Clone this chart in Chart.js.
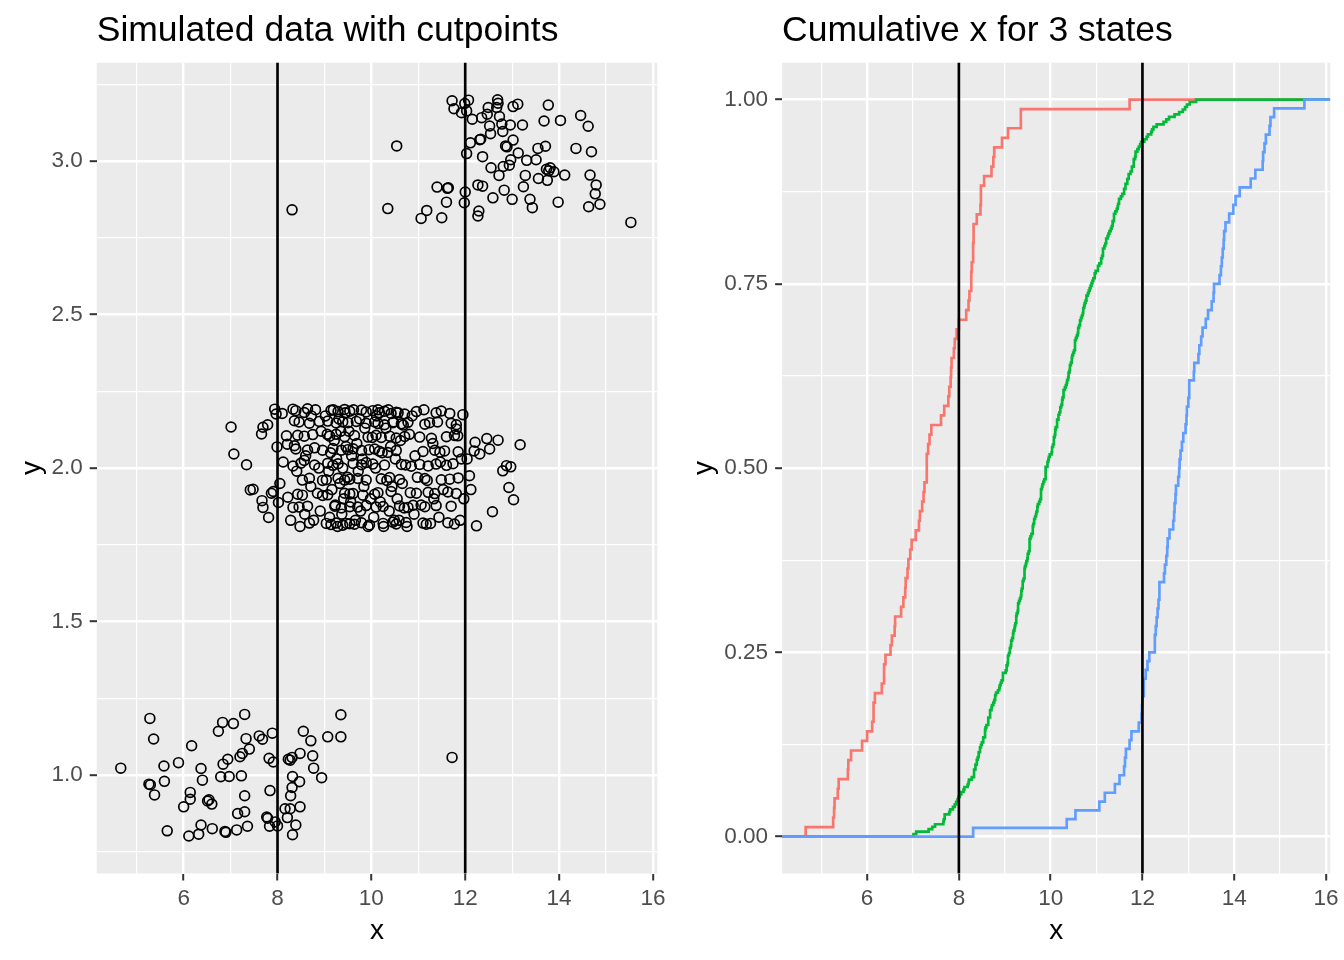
<!DOCTYPE html>
<html>
<head>
<meta charset="utf-8">
<script src="https://cdn.jsdelivr.net/npm/chart.js@4.4.1/dist/chart.umd.min.js"></script>
<style>
  html, body { margin: 0; padding: 0; background: #ffffff; }
  #wrap { position: relative; width: 1344px; height: 960px; overflow: hidden; }
  canvas { position: absolute; top: 0; }
  #left { left: 0; }
  #right { left: 672px; }
</style>
</head>
<body>
<div id="wrap">
  <canvas id="left" width="672" height="960"></canvas>
  <canvas id="right" width="672" height="960"></canvas>
</div>
<script>
// ---------------- data ----------------
const leftTitle = 'Simulated data with cutpoints';
const rightTitle = 'Cumulative x for 3 states';
const xTitle = 'x';
const yTitle = 'y';
const cutpoints = [8, 12];
const stateNames = ['1', '2', '3'];
const stateColors = ['#F8766D', '#00BA38', '#619CFF'];

const xMajorTicks = [6, 8, 10, 12, 14, 16];
const leftYMajorTicks = [1.0, 1.5, 2.0, 2.5, 3.0];
const rightYMajorTicks = [0, 0.25, 0.5, 0.75, 1.0];

// state 1 points [x, y]
const state1Points = [
  [4.66,1.023],[5.28,1.185],[5.36,1.118],[5.26,0.971],[5.29,0.969],[5.38,0.936],[5.58,1.030],[5.59,0.980],
  [5.89,1.041],[5.65,0.819],[6.17,1.096],[6.14,0.944],[6.14,0.922],[6.00,0.897],[6.11,0.802],[6.32,0.808],
  [6.37,0.838],[6.37,1.022],[6.40,0.984],[6.61,0.826],[6.51,0.916],[6.54,0.920],[6.60,0.906],[6.74,1.143],
  [6.83,1.172],[7.06,1.168],[7.30,1.198],[6.84,1.036],[6.94,1.052],[6.79,0.995],[6.97,0.996],[7.23,0.998],
  [7.20,1.060],[7.25,1.071],[7.40,1.085],[7.33,1.119],[7.30,0.933],[7.15,0.875],[7.30,0.881],[6.88,0.817],
  [6.90,0.814],[7.13,0.822],[7.36,0.834],[7.61,1.128],[7.68,1.117],[7.89,1.137],[7.82,1.055],[7.91,1.043],
  [7.84,0.950],[7.77,0.864],[7.79,0.860],[7.83,0.834],[8.00,0.835],[7.95,0.848],[8.23,1.052],[8.27,1.049],
  [8.31,1.058],[8.48,1.071],[8.32,0.996],[8.47,0.979],[8.31,0.960],[8.28,0.933],[8.16,0.891],[8.27,0.891],
  [8.48,0.897],[8.39,0.838],[8.32,0.806],[8.21,0.862],[8.55,1.143],[8.71,1.112],[8.75,1.063],[8.77,1.023],
  [8.94,0.992],[9.07,1.125],[9.35,1.125],[9.35,1.197],[11.72,1.058]
];

// state 2 points [x, y]
const state2Points = [
  [7.01,2.134],[7.07,2.046],[7.34,2.011],[7.42,1.929],[7.48,1.931],
  [7.67,1.894],[7.69,1.872],[7.81,1.839],[7.87,1.918],[7.91,1.924],[7.66,2.111],[7.69,2.133],[7.79,2.141],
  [7.94,2.192],[7.97,2.176],[7.99,2.069],
  [8.10,2.178],[8.19,2.105],[8.21,2.078],[8.36,2.073],[8.33,2.192],[8.36,2.154],[8.33,2.007],[8.02,1.888],
  [8.22,1.905],[8.33,1.872],[8.39,2.187],[8.46,2.150],[8.43,2.107],[8.39,2.062],[8.43,1.915],[8.46,1.873],
  [8.05,1.950],[8.12,2.020],[8.28,1.830],[8.41,1.990],[8.48,1.810],
  [8.57,2.181],[8.64,2.193],[8.68,2.146],[8.57,2.104],[8.64,2.059],[8.50,2.016],[8.57,2.025],[8.53,1.961],
  [8.53,1.912],[8.64,1.876],[8.68,1.821],[8.89,2.152],[8.75,2.109],[8.79,2.066],[8.96,2.058],[8.79,2.010],
  [8.68,1.967],[8.96,1.960],[8.85,1.918],[8.96,1.911],[8.72,2.170],[8.81,2.190],[8.93,2.120],[8.60,2.040],
  [8.88,2.000],[8.71,1.940],[8.91,1.860],[8.77,1.830],[8.58,1.850],
  [9.14,2.188],[9.29,2.184],[9.43,2.191],[9.07,2.153],[9.25,2.147],[9.39,2.151],[9.11,2.104],[9.25,2.110],
  [9.43,2.102],[9.18,2.064],[9.36,2.058],[9.07,2.016],[9.18,2.009],[9.29,2.014],[9.04,1.962],[9.29,1.967],
  [9.43,1.961],[9.07,1.913],[9.43,1.918],[9.22,1.876],[9.36,1.870],[9.04,1.820],[9.14,1.816],[9.25,1.821],
  [9.39,1.814],
  [9.02,2.170],[9.06,2.110],[9.09,1.990],[9.11,1.840],[9.13,2.050],[9.16,1.930],[9.19,2.190],[9.21,2.090],
  [9.23,1.880],[9.26,2.030],[9.28,1.810],[9.31,2.160],[9.33,1.950],[9.35,2.120],[9.37,1.850],[9.39,2.000],
  [9.41,1.900],[9.44,2.180],[9.46,2.070],[9.47,1.820],[9.49,1.970],
  [9.54,2.185],[9.50,2.148],[9.50,2.060],[9.54,1.964],[9.54,1.916],[9.54,1.874],[9.54,1.819],
  [9.79,2.189],[9.89,2.183],[9.68,2.152],[9.89,2.146],[9.64,2.106],[9.93,2.101],[9.61,2.063],[9.79,2.057],
  [9.61,2.015],[9.79,2.011],[9.89,2.018],[9.71,1.966],[9.89,1.961],[9.61,1.917],[9.82,1.912],[9.71,1.873],
  [9.89,1.878],[9.64,1.817],[9.79,1.822],[9.96,1.815],
  [9.52,2.120],[9.56,1.890],[9.58,2.040],[9.62,2.190],[9.66,1.830],[9.69,2.080],[9.72,1.990],[9.75,2.160],
  [9.77,1.860],[9.81,2.030],[9.84,1.940],[9.86,2.130],[9.93,1.810],[9.95,2.060],[9.98,1.900],
  [10.03,2.187],[10.14,2.190],[10.07,2.150],[10.10,2.107],[10.07,2.062],[10.03,2.013],[10.07,1.915],[10.10,1.873],
  [10.17,2.180],[10.28,2.185],[10.42,2.178],[10.14,2.145],[10.28,2.141],[10.46,2.148],[10.21,2.100],[10.39,2.104],
  [10.17,2.055],[10.35,2.051],[10.28,2.010],[10.21,1.965],[10.39,1.969],[10.14,1.920],[10.42,1.924],[10.25,1.875],
  [10.25,1.820],[10.46,1.824],
  [10.02,2.100],[10.05,1.840],[10.09,2.000],[10.11,2.170],[10.19,1.890],[10.23,2.050],[10.26,1.810],[10.31,2.130],
  [10.33,1.960],[10.36,2.190],[10.38,1.860],[10.41,2.070],[10.44,1.940],[10.47,2.150],[10.49,1.830],
  [10.53,2.182],[10.71,2.176],[10.96,2.184],[10.64,2.144],[10.78,2.149],[10.53,2.098],[10.71,2.103],[10.53,2.057],
  [10.64,2.012],[10.85,2.006],[10.60,1.963],[10.96,1.918],[10.60,1.877],[10.78,1.872],[10.89,1.879],[10.53,1.818],
  [10.74,1.823],
  [10.51,2.030],[10.55,1.900],[10.57,2.180],[10.59,1.830],[10.62,2.090],[10.66,1.950],[10.68,2.140],[10.70,1.870],
  [10.73,2.010],[10.76,1.810],[10.81,2.110],[10.83,1.920],[10.87,2.170],[10.91,1.850],[10.93,2.040],[10.98,1.970],
  [11.38,2.180],[11.49,2.186],[11.14,2.143],[11.24,2.148],[11.03,2.101],[11.28,2.097],[11.10,2.054],[11.35,2.058],
  [11.46,2.052],[11.03,2.012],[11.21,2.007],[11.38,2.013],[11.14,1.966],[11.49,1.962],[11.21,1.921],[11.35,1.917],
  [11.14,1.874],[11.38,1.878],[11.10,1.821],[11.17,1.817],
  [11.06,1.880],[11.12,2.190],[11.19,1.960],[11.26,1.820],[11.31,2.080],[11.33,1.900],[11.41,2.150],[11.44,1.840],
  [11.47,2.020],
  [11.67,2.178],[11.70,2.146],[11.81,2.141],[11.60,2.102],[11.77,2.106],[11.56,2.056],[11.85,2.053],[11.60,2.009],
  [11.74,2.014],[11.67,1.964],[11.85,1.968],[11.63,1.922],[11.81,1.917],[11.70,1.876],[11.63,1.822],[11.77,1.818],
  [11.95,2.174],[11.81,2.127],[11.84,2.105],
  [11.53,1.930],[11.89,1.830],[11.92,2.030],[11.97,1.900],
  [12.21,2.084],[12.46,2.096],[12.19,2.056],[12.31,2.046],[12.24,1.812],[12.09,1.975],[12.04,2.030],[12.12,1.930],
  [12.70,2.091],[12.52,2.062],[12.80,1.991],[12.88,2.008],[12.97,2.004],[12.93,1.937],[12.58,1.858],
  [13.17,2.076],[13.03,1.897]
];

// state 3 points [x, y]
const state3Points = [
  [11.72,3.196],[12.07,3.198],[11.99,3.187],[11.76,3.170],[11.92,3.157],[12.03,3.163],[12.15,3.136],[12.35,3.141],
  [12.49,3.174],[12.47,3.152],[12.69,3.199],[12.70,3.188],[12.67,3.174],[12.73,3.145],[13.02,3.177],[13.12,3.185],
  [12.52,3.114],[12.54,3.089],[12.78,3.120],[12.80,3.096],[12.96,3.117],[13.22,3.117],[13.02,3.068],[12.86,3.049],
  [12.89,3.046],[12.33,3.071],[12.31,3.069],[12.11,3.059],[12.03,3.024],[12.37,3.014],[13.13,3.026],[13.31,3.002],
  [13.51,3.004],[12.97,3.004],[13.55,3.041],[13.71,3.048],[13.68,3.130],[13.77,3.182],[14.03,3.132],[14.46,3.148],
  [14.62,3.113],[14.36,3.041],[14.69,3.030],[12.55,2.978],[12.81,2.982],[12.94,2.986],[12.72,2.953],[13.28,2.953],
  [13.73,2.973],[13.81,2.978],[13.78,2.968],[13.89,2.965],[13.56,2.943],[13.75,2.937],[14.12,2.954],[14.66,2.954],
  [14.79,2.922],[14.77,2.893],[14.87,2.859],[14.63,2.851],[13.98,2.866],[13.24,2.916],[12.83,2.905],[12.59,2.880],
  [13.00,2.875],[13.38,2.875],[13.43,2.848],[12.27,2.922],[12.37,2.918],[12.00,2.899],[11.98,2.864],[12.29,2.837],
  [12.27,2.821],[11.40,2.915],[11.62,2.911],[11.64,2.913],[11.60,2.866],[11.18,2.839],[11.06,2.813],[11.50,2.815],
  [10.54,3.049],[10.35,2.845],[8.31,2.841],[15.53,2.800]
];

const statesPoints = [state1Points, state2Points, state3Points];

// ---------------- axis ranges (ggplot-style 5% expansion) ----------------
const X_MIN = 4.147, X_MAX = 16.093;
const LEFT_Y_MIN = 0.68, LEFT_Y_MAX = 3.32;
const RIGHT_Y_MIN = -0.05, RIGHT_Y_MAX = 1.05;

// ---------------- styling ----------------
const FONT = "'Liberation Sans', Arial, Helvetica, sans-serif";
const PANEL_BG = '#EBEBEB';
const GRID_MAJOR = 2.4, GRID_MINOR = 1.2;
const TICK_COLOR = '#333333';
const TICK_LABEL_COLOR = '#4D4D4D';
const LINE_W = 2.67;

const near = (a, b) => Math.abs(a - b) < 1e-6;
const isIn = (list, v) => list.some(t => near(t, v));

const panelBackground = {
  id: 'panelBackground',
  beforeDraw(chart) {
    const { ctx, chartArea: a } = chart;
    ctx.save();
    ctx.fillStyle = PANEL_BG;
    ctx.fillRect(a.left, a.top, a.right - a.left, a.bottom - a.top);
    ctx.restore();
  }
};

const cutpointLines = {
  id: 'cutpointLines',
  afterDatasetsDraw(chart) {
    const { ctx, chartArea: a } = chart;
    const xs = chart.scales.x;
    ctx.save();
    ctx.strokeStyle = '#000000';
    ctx.lineWidth = LINE_W;
    cutpoints.forEach(c => {
      const px = xs.getPixelForValue(c);
      ctx.beginPath();
      ctx.moveTo(px, a.top);
      ctx.lineTo(px, a.bottom);
      ctx.stroke();
    });
    ctx.restore();
  }
};

function xAxis() {
  return {
    type: 'linear', position: 'bottom', min: X_MIN, max: X_MAX,
    afterFit(s) { s.height = 86.5; },
    border: { display: false },
    grid: {
      color: '#FFFFFF',
      lineWidth: c => (c.tick && isIn(xMajorTicks, c.tick.value)) ? GRID_MAJOR : GRID_MINOR,
      drawTicks: true, tickLength: 7, tickWidth: 2,
      tickColor: c => (c.tick && isIn(xMajorTicks, c.tick.value)) ? TICK_COLOR : 'rgba(0,0,0,0)'
    },
    ticks: {
      stepSize: 1, includeBounds: false, autoSkip: false, maxRotation: 0, minRotation: 0,
      padding: 5, color: TICK_LABEL_COLOR, font: { family: FONT, size: 22.5 },
      callback: v => isIn(xMajorTicks, v) ? String(Math.round(v)) : ''
    },
    title: {
      display: true, text: xTitle, color: '#000000',
      font: { family: FONT, size: 28 }, padding: { top: 0, bottom: 12 }
    }
  };
}

function yAxis(min, max, step, majors, digits, width) {
  return {
    type: 'linear', position: 'left', min, max,
    afterFit(s) { s.width = width; },
    border: { display: false },
    grid: {
      color: '#FFFFFF',
      lineWidth: c => (c.tick && isIn(majors, c.tick.value)) ? GRID_MAJOR : GRID_MINOR,
      drawTicks: true, tickLength: 7, tickWidth: 2,
      tickColor: c => (c.tick && isIn(majors, c.tick.value)) ? TICK_COLOR : 'rgba(0,0,0,0)'
    },
    ticks: {
      stepSize: step, includeBounds: false, autoSkip: false,
      padding: 7, color: TICK_LABEL_COLOR, font: { family: FONT, size: 22.5 },
      callback: v => isIn(majors, v) ? Number(v).toFixed(digits) : ''
    },
    title: {
      display: true, text: yTitle, color: '#000000',
      font: { family: FONT, size: 28 }, padding: { top: 15, bottom: 0 }
    }
  };
}

function titleOpts(text) {
  return {
    display: true, text, align: 'start', fullSize: false, color: '#000000',
    font: { family: FONT, size: 35.5, weight: 'normal', lineHeight: 1.2 },
    padding: { top: 10.4, bottom: 9.7 }
  };
}

const common = {
  responsive: false,
  animation: false,
  events: [],
  devicePixelRatio: 1
};

// ---------------- left panel: scatter ----------------
const allPoints = statesPoints.flat().map(([x, y]) => ({ x, y }));

new Chart(document.getElementById('left'), {
  type: 'scatter',
  data: {
    datasets: [{
      label: 'points',
      data: allPoints,
      pointStyle: 'circle',
      pointRadius: 4.9,
      pointBorderWidth: 1.7,
      pointBackgroundColor: 'rgba(0,0,0,0)',
      pointBorderColor: '#000000',
      showLine: false
    }]
  },
  options: Object.assign({}, common, {
    layout: { padding: { left: 0, right: 14.7, top: 0, bottom: 0 } },
    scales: {
      x: xAxis(),
      y: yAxis(LEFT_Y_MIN, LEFT_Y_MAX, 0.25, leftYMajorTicks, 1, 96.7)
    },
    plugins: {
      title: titleOpts(leftTitle),
      legend: { display: false },
      tooltip: { enabled: false }
    }
  }),
  plugins: [panelBackground, cutpointLines]
});

// ---------------- right panel: ECDF per state ----------------
function ecdf(points) {
  const xs = points.map(p => p[0]).sort((a, b) => a - b);
  const n = xs.length;
  const out = [{ x: X_MIN, y: 0 }];
  xs.forEach((x, i) => out.push({ x, y: (i + 1) / n }));
  out.push({ x: X_MAX, y: 1 });
  return out;
}

const ecdfDatasets = statesPoints.map((pts, i) => ({
  label: stateNames[i],
  data: ecdf(pts),
  stepped: true,
  borderColor: stateColors[i],
  borderWidth: LINE_W,
  pointRadius: 0,
  fill: false,
  order: 10 - i
}));

new Chart(document.getElementById('right'), {
  type: 'line',
  data: { datasets: ecdfDatasets },
  options: Object.assign({}, common, {
    layout: { padding: { left: 0, right: 13.75, top: 0, bottom: 0 } },
    scales: {
      x: xAxis(),
      y: yAxis(RIGHT_Y_MIN, RIGHT_Y_MAX, 0.125, rightYMajorTicks, 2, 110.1)
    },
    plugins: {
      title: titleOpts(rightTitle),
      legend: { display: false },
      tooltip: { enabled: false }
    }
  }),
  plugins: [panelBackground, cutpointLines]
});
</script>
</body>
</html>
